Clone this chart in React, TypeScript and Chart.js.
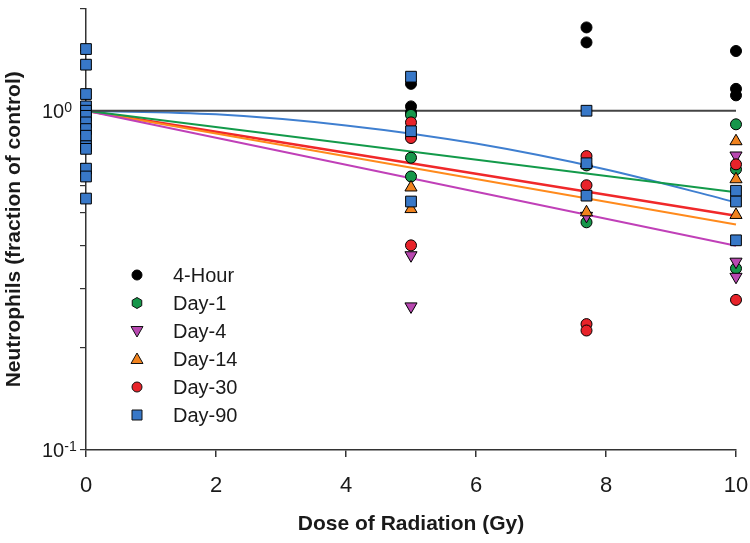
import React, { useEffect, useRef } from 'react';
import { Chart, registerables } from 'chart.js';

Chart.register(...registerables);

// ---- Data ----
const seriesNames = ['4-Hour', 'Day-1', 'Day-4', 'Day-14', 'Day-30', 'Day-90'];

const hour4X = [5, 5, 5, 7.7, 7.7, 10, 10, 10];
const hour4Y = [1.2, 1.03, 0.99, 1.76, 1.59, 1.5, 1.16, 1.11];

const day1X = [5, 5, 5, 7.7, 7.7, 10, 10, 10];
const day1Y = [0.972, 0.727, 0.64, 0.69, 0.469, 0.912, 0.672, 0.343];

const day4X = [5, 5, 7.7, 10, 10, 10];
const day4Y = [0.375, 0.265, 0.49, 0.738, 0.359, 0.324];

const day14X = [5, 5, 7.7, 7.7, 10, 10, 10];
const day14Y = [0.594, 0.513, 0.7, 0.502, 0.813, 0.628, 0.493];

const day30X = [5, 5, 5, 7.7, 7.7, 7.7, 7.7, 10, 10];
const day30Y = [0.924, 0.831, 0.401, 0.735, 0.603, 0.235, 0.225, 0.695, 0.277];

const day90X = [0, 0, 0, 0, 0, 0, 0, 0, 0, 0, 0, 0, 0, 0, 5, 5, 5, 7.7, 7.7, 7.7, 10, 10, 10];
const day90Y = [1.52, 1.367, 1.12, 1.03, 1.0, 0.966, 0.924, 0.883, 0.844, 0.786, 0.772, 0.675, 0.64, 0.551,
  1.26, 0.87, 0.54, 1.0, 0.7, 0.562, 0.581, 0.54, 0.415];

// fitted curves
const fitX = [0, 10];
const fit4HourY = [1, 1];
const fitDay1Y = [1, 0.575];
const fitDay4Y = [1, 0.4];
const fitDay14Y = [1, 0.462];
const fitDay30Y = [1, 0.49];
const fitDay90X = [0, 2, 4, 6, 8, 10];
const fitDay90Y = [1, 0.976, 0.905, 0.8, 0.671, 0.537];

const xTicks = [0, 2, 4, 6, 8, 10];

// ---- Styles ----
const FONT = '"Liberation Sans", Arial, Helvetica, sans-serif';
const TEXT = '#1a1a1a';
const markerFill = ['#000000', '#16964a', '#b848b0', '#f0821e', '#e8232a', '#3878c8'];
const lineColors = ['#444444', '#139a4a', '#c040b8', '#ff8a1c', '#f0282a', '#3f7fd0'];
const legendShape = ['circle', 'hex', 'tridown', 'tri', 'circle', 'square'];

const zip = (xs: number[], ys: number[]) => xs.map((x, i) => ({ x, y: ys[i] }));

function drawMarker(ctx: CanvasRenderingContext2D, shape: string, x: number, y: number, fill: string) {
  ctx.beginPath();
  if (shape === 'circle') {
    ctx.arc(x, y, 5, 0, Math.PI * 2);
  } else if (shape === 'hex') {
    for (let i = 0; i < 6; i++) {
      const a = Math.PI / 6 + (i * Math.PI) / 3;
      const px = x + 5.5 * Math.cos(a);
      const py = y + 5.5 * Math.sin(a);
      if (i === 0) ctx.moveTo(px, py); else ctx.lineTo(px, py);
    }
  } else if (shape === 'tri') {
    ctx.moveTo(x, y - 6);
    ctx.lineTo(x + 6, y + 4.5);
    ctx.lineTo(x - 6, y + 4.5);
  } else if (shape === 'tridown') {
    ctx.moveTo(x, y + 6);
    ctx.lineTo(x + 6, y - 4.5);
    ctx.lineTo(x - 6, y - 4.5);
  } else {
    ctx.rect(x - 5, y - 5, 10, 10);
  }
  ctx.closePath();
  ctx.fillStyle = fill;
  ctx.fill();
  ctx.strokeStyle = fill === '#000000' ? '#000' : '#111';
  ctx.lineWidth = 1;
  ctx.stroke();
}

const overlayPlugin = {
  id: 'overlay',
  afterDraw(chart: any) {
    const ctx: CanvasRenderingContext2D = chart.ctx;
    const yScale = chart.scales.y;
    ctx.save();
    ctx.fillStyle = TEXT;
    ctx.textAlign = 'left';
    ctx.textBaseline = 'alphabetic';
    const drawPow = (val: number, sup: string) => {
      const py = yScale.getPixelForValue(val);
      ctx.font = `20px ${FONT}`;
      ctx.fillStyle = TEXT;
      ctx.fillText('10', 42, py + 7);
      const w = ctx.measureText('10').width;
      ctx.font = `14px ${FONT}`;
      ctx.fillText(sup, 42 + w, py + 1);
    };
    drawPow(1, '0');
    drawPow(0.1, '-1');

    // legend
    const rowY0 = 275;
    const rowStep = 28;
    seriesNames.forEach((name, i) => {
      const ry = rowY0 + i * rowStep;
      drawMarker(ctx, legendShape[i], 137, ry, markerFill[i]);
      ctx.font = `20px ${FONT}`;
      ctx.fillStyle = TEXT;
      ctx.textBaseline = 'middle';
      ctx.fillText(name, 173, ry + 1);
    });
    ctx.restore();
  },
};

export default function App() {
  const ref = useRef<HTMLCanvasElement>(null);

  useEffect(() => {
    if (!ref.current) return;
    const scatterSets = [
      { x: hour4X, y: hour4Y, style: 'circle', rot: 0, r: 5.5 },
      { x: day1X, y: day1Y, style: 'circle', rot: 0, r: 5.5 },
      { x: day4X, y: day4Y, style: 'triangle', rot: 180, r: 7 },
      { x: day14X, y: day14Y, style: 'triangle', rot: 0, r: 7 },
      { x: day30X, y: day30Y, style: 'circle', rot: 0, r: 5.5 },
      { x: day90X, y: day90Y, style: 'rect', rot: 0, r: 7.6 },
    ];
    const fitSets = [
      { x: fitX, y: fit4HourY, w: 2 },
      { x: fitX, y: fitDay1Y, w: 2 },
      { x: fitX, y: fitDay4Y, w: 2 },
      { x: fitX, y: fitDay14Y, w: 2 },
      { x: fitX, y: fitDay30Y, w: 2.6 },
      { x: fitDay90X, y: fitDay90Y, w: 2 },
    ];

    const datasets: any[] = [];
    fitSets.forEach((f, i) => {
      datasets.push({
        label: seriesNames[i] + ' fit',
        data: zip(f.x, f.y),
        showLine: true,
        borderColor: lineColors[i],
        borderWidth: f.w,
        pointRadius: 0,
        fill: false,
        clip: false,
        cubicInterpolationMode: 'monotone',
        order: 20 + i,
      });
    });
    scatterSets.forEach((s, i) => {
      datasets.push({
        label: seriesNames[i],
        data: zip(s.x, s.y),
        showLine: false,
        pointStyle: s.style,
        rotation: s.rot,
        pointRadius: s.r,
        pointHoverRadius: s.r,
        backgroundColor: markerFill[i],
        borderColor: '#000',
        borderWidth: 1,
        clip: false,
        order: 10 - i,
      });
    });

    const chart = new Chart(ref.current, {
      type: 'scatter',
      data: { datasets },
      options: {
        responsive: false,
        animation: false,
        devicePixelRatio: 1,
        layout: { padding: { top: 4, right: 14, bottom: 0, left: 0 } },
        plugins: {
          legend: { display: false },
          tooltip: { enabled: false },
        },
        scales: {
          x: {
            type: 'linear',
            min: 0,
            max: 10,
            afterBuildTicks: (axis: any) => {
              axis.ticks = xTicks.map((v) => ({ value: v }));
            },
            afterFit: (axis: any) => {
              axis.height = 93;
              axis.paddingLeft = 0;
              axis.paddingRight = 0;
            },
            ticks: {
              font: { family: FONT, size: 22 },
              color: TEXT,
              padding: 16,
              maxRotation: 0,
              autoSkip: false,
            },
            grid: {
              display: true,
              drawOnChartArea: false,
              drawTicks: true,
              tickLength: 7,
              color: '#333',
              lineWidth: 1.5,
            },
            border: { display: true, color: '#333', width: 1.5 },
            title: {
              display: true,
              text: 'Dose of Radiation (Gy)',
              font: { family: FONT, size: 21, weight: 'bold' },
              color: TEXT,
              padding: { top: 0, bottom: 6 },
            },
          },
          y: {
            type: 'logarithmic',
            min: 0.1,
            max: 2,
            afterFit: (axis: any) => {
              axis.width = 86;
              axis.paddingTop = 0;
              axis.paddingBottom = 0;
            },
            ticks: {
              callback: () => '',
              autoSkip: false,
              font: { family: FONT, size: 12 },
              padding: 0,
            },
            grid: {
              display: true,
              drawOnChartArea: false,
              drawTicks: true,
              tickLength: 6,
              color: '#333',
              lineWidth: 1.2,
            },
            border: { display: true, color: '#333', width: 1.5 },
            title: {
              display: true,
              text: 'Neutrophils (fraction of control)',
              font: { family: FONT, size: 21, weight: 'bold' },
              color: TEXT,
              padding: { top: 2, bottom: 0 },
            },
          },
        },
      } as any,
      plugins: [overlayPlugin],
    });
    return () => chart.destroy();
  }, []);

  return (
    <div style={{ position: 'fixed', left: 0, top: 0, width: 750, height: 543, background: '#fff' }}>
      <canvas ref={ref} width={750} height={543} style={{ width: 750, height: 543 }} />
    </div>
  );
}
